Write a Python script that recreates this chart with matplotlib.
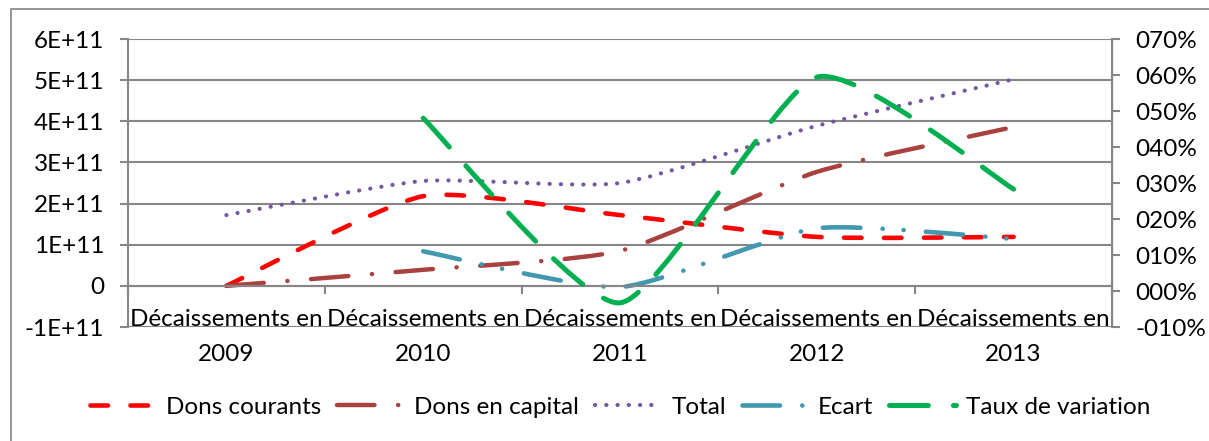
import numpy as np
import matplotlib
matplotlib.use("Agg")
import matplotlib.pyplot as plt
from matplotlib.path import Path
from matplotlib.patches import PathPatch, Rectangle
from matplotlib.lines import Line2D

plt.rcParams['font.family'] = ['Lato', 'DejaVu Sans']
plt.rcParams['lines.scale_dashes'] = False

annees = ["2009", "2010", "2011", "2012", "2013"]
categorie = "Décaissements en"

dons_courants = [0.0, 2.18e11, 1.72e11, 1.19e11, 1.19e11]
dons_capital = [0.0, 0.39e11, 0.85e11, 2.77e11, 3.86e11]
total = [1.72e11, 2.55e11, 2.50e11, 3.89e11, 5.02e11]
ecart = [None, 0.84e11, -0.03e11, 1.40e11, 1.14e11]
taux = [None, 0.48, -0.033, 0.594, 0.283]

gris = "#868686"
FS = 17.5


def courbe(ax, ys, k=0.1, **kw):
    # courbe lissée façon Excel (Bézier passant par les points)
    pts = np.array([(i, y) for i, y in enumerate(ys) if y is not None], dtype=float)
    n = len(pts)
    verts = [pts[0]]
    codes = [Path.MOVETO]
    for i in range(n - 1):
        p0 = pts[i - 1] if i > 0 else pts[i]
        p1, p2 = pts[i], pts[i + 1]
        p3 = pts[i + 2] if i + 2 < n else p2
        verts += [p1 + (p2 - p0) * k, p2 - (p3 - p1) * k, p2]
        codes += [Path.CURVE4] * 3
    patch = PathPatch(Path(verts, codes), fill=False, capstyle='round',
                      joinstyle='round', **kw)
    ax.add_patch(patch)


fig = plt.figure(figsize=(12.09, 4.41), dpi=100)
ax = fig.add_axes([128 / 1209, 1 - 327 / 441, (1112 - 128) / 1209, 288 / 441])
ax2 = ax.twinx()

series = [
    ("Dons courants", dons_courants, ax, "#FF0000", 3.3, (0, (12.6, 16.2))),
    ("Dons en capital", dons_capital, ax, "#A9423F", 3.2, (0, (27, 17, 0.1, 17))),
    ("Total", total, ax, "#7457A0", 3.0, (0, (0.1, 8.0))),
    ("Ecart", ecart, ax, "#4198AF", 3.3, (0, (27, 16, 0.1, 15, 0.1, 16))),
    ("Taux de variation", taux, ax2, "#00B050", 3.6, (0, (28, 18))),
]

handles = []
for nom, vals, a, c, lw, ls in series:
    courbe(a, vals, edgecolor=c, linewidth=lw, linestyle=ls)
    handles.append(Line2D([], [], color=c, lw=lw, linestyle=ls,
                          dash_capstyle='round', solid_capstyle='round', label=nom))

ax.set_xlim(-0.5, 4.5)
ax.set_ylim(-1e11, 6e11)
yt = np.arange(-1, 7) * 1e11
ax.set_yticks(yt)
ax.set_yticklabels(["-1E+11", "0", "1E+11", "2E+11", "3E+11", "4E+11", "5E+11", "6E+11"])
ax.grid(axis='y', color=gris, lw=1.5)
ax.set_axisbelow(True)

# étiquettes de catégories sur deux niveaux
ax.set_xticks(range(5))
ax.set_xticklabels([])
for i, a in enumerate(annees):
    ax.annotate(categorie, xy=(i, 0), xytext=(0, -24.5), textcoords='offset points',
                ha='center', va='center', fontsize=FS, annotation_clip=False)
    ax.annotate(a, xy=(i, 0), xytext=(0, -49.5), textcoords='offset points',
                ha='center', va='center', fontsize=FS, annotation_clip=False)
ax.set_xticks(np.arange(-0.5, 5, 1), minor=True)
ax.tick_params(axis='x', which='major', length=0)
ax.tick_params(axis='x', which='minor', length=6, width=1.5, color=gris, direction='out')
ax.tick_params(axis='y', length=6, width=1.5, color=gris, pad=11, labelsize=FS)
ax.spines['bottom'].set_position(('data', 0))
ax.spines['top'].set_visible(False)
ax2.spines['top'].set_visible(False)
ax.spines['bottom'].set_color(gris)
ax.spines['bottom'].set_linewidth(1.5)
ax.spines['left'].set_color(gris)
ax.spines['left'].set_linewidth(1.5)
ax2.spines['right'].set_color(gris)
ax2.spines['right'].set_linewidth(1.5)
ax2.spines['left'].set_visible(False)
ax2.spines['bottom'].set_visible(False)

ax2.set_ylim(-0.1, 0.7)
pt = np.arange(-1, 8) / 10
ax2.set_yticks(pt)
ax2.set_yticklabels([("-" if v < 0 else "") + "%03d%%" % round(abs(v) * 100) for v in pt])
ax2.tick_params(axis='y', length=6, width=1.5, color=gris, pad=11, labelsize=FS)

fig.legend(handles=handles, loc='center', bbox_to_anchor=(620 / 1209, 1 - 407 / 441),
           ncol=5, frameon=False, fontsize=FS, handlelength=2.75,
           handletextpad=0.4, columnspacing=0.65)

fig.add_artist(Rectangle((11 / 1209, -0.05), 1.1, 1 - 9 / 441 + 0.05,
                         transform=fig.transFigure, fill=False, edgecolor="#8C8C8C", lw=1.3))

fig.savefig("out.png", dpi=100)
